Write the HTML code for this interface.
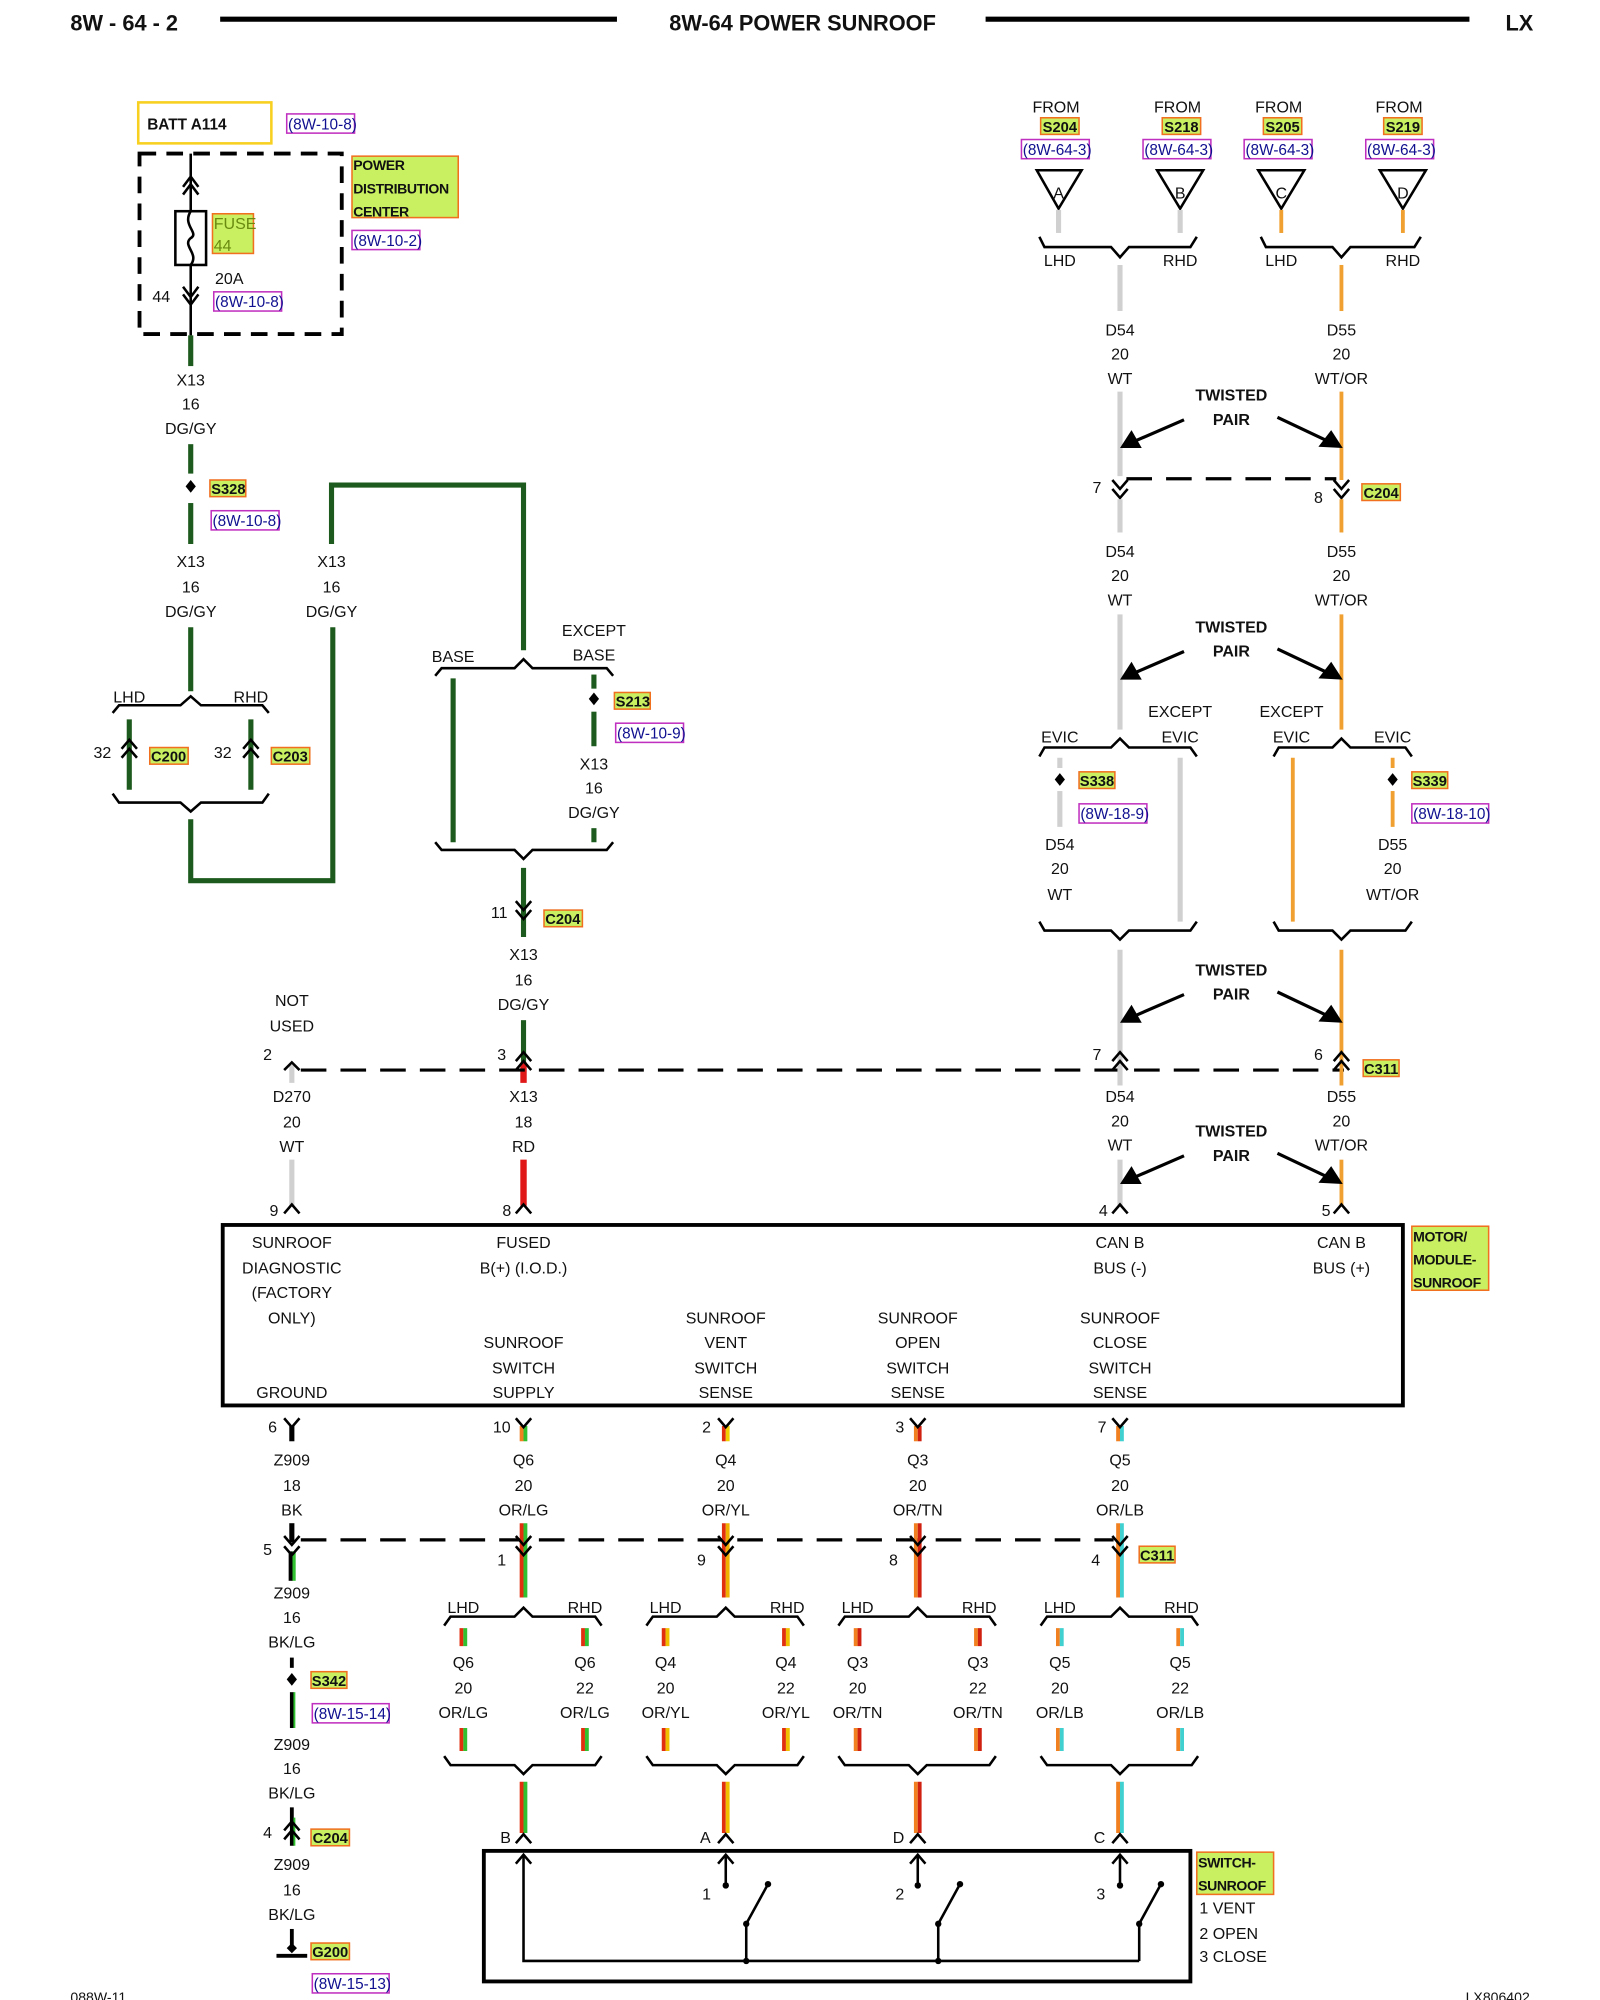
<!DOCTYPE html>
<html><head><meta charset="utf-8"><style>
html,body{margin:0;padding:0;background:#fff}
svg{display:block}
text{font-family:"Liberation Sans",sans-serif;font-size:12.5px;fill:#111;text-anchor:middle}
.l{text-anchor:start}.bd{font-weight:bold}
.sm{font-size:11px;letter-spacing:-0.3px}
.hl{fill:#c8f060;stroke:#f07020;stroke-width:1.2}
.rf{fill:none;stroke:#c030c0;stroke-width:1.2}
.rt{fill:#101090;text-anchor:start;font-size:12px}
.k{stroke:#000;stroke-width:2;fill:none}
.g{stroke:#1d5a1d;stroke-width:4;fill:none}
.w{stroke:#d0d0d0;stroke-width:4;fill:none}
.o{stroke:#f0a030;stroke-width:3;fill:none}
.r{stroke:#e01818;stroke-width:5;fill:none}
.d{stroke:#000;stroke-width:2.5;fill:none;stroke-dasharray:20,11}
</style></head><body>
<svg width="1600" height="2000" viewBox="0 0 1250 1562.5" xmlns="http://www.w3.org/2000/svg">
<text x="55" y="24" class="l bd" style="font-size:17px">8W - 64 - 2</text>
<line x1="172" y1="15" x2="482" y2="15" stroke="#000" stroke-width="4"/>
<text x="627" y="24" class="bd" style="font-size:17px">8W-64 POWER SUNROOF</text>
<line x1="770" y1="15" x2="1148" y2="15" stroke="#000" stroke-width="4"/>
<text x="1187" y="24" class="bd" style="font-size:17px">LX</text>

<rect x="108" y="80" width="104" height="32" fill="none" stroke="#f8d020" stroke-width="2"/>
<text x="115" y="101" class="l bd" style="font-size:12px">BATT A114</text>
<rect x="224" y="89" width="53" height="15" class="rf"/><text x="225" y="101" class="rt">(8W-10-8)</text>
<rect x="109" y="120" width="158" height="141" fill="none" stroke="#000" stroke-width="3" stroke-dasharray="13,8"/>
<line x1="149" y1="120" x2="149" y2="262" class="k"/>
<path d="M143,146 L149,138 L155,146 M143,152 L149,144 L155,152" class="k"/>
<rect x="137" y="165" width="24" height="42" fill="#fff" stroke="#000" stroke-width="2"/>
<path d="M149,165 C142,176 156,182 149,186 C142,192 156,198 149,207" class="k" stroke-width="1.5"/>
<rect x="166" y="167" width="32" height="31" class="hl"/>
<text x="167" y="179" class="l" style="fill:#6a8a10">FUSE</text><text x="167" y="196" class="l" style="fill:#6a8a10">44</text>
<text x="168" y="222" class="l">20A</text>
<path d="M143,224 L149,232 L155,224 M143,230 L149,238 L155,230" class="k"/>
<text x="126" y="236">44</text>
<rect x="167" y="228" width="53" height="15" class="rf"/><text x="168" y="240" class="rt">(8W-10-8)</text>
<rect x="275" y="122" width="83" height="48" class="hl"/>
<text x="276" y="133" class="l bd sm">POWER</text><text x="276" y="151" class="l bd sm">DISTRIBUTION</text><text x="276" y="169" class="l bd sm">CENTER</text>
<rect x="275" y="180" width="53" height="15" class="rf"/><text x="276" y="192" class="rt">(8W-10-2)</text>
<line x1="149" y1="262" x2="149" y2="286" class="g"/>
<text x="149" y="301">X13</text><text x="149" y="320">16</text><text x="149" y="339">DG/GY</text>
<line x1="149" y1="347" x2="149" y2="370" class="g"/>
<path d="M149,375 L153,380 L149,385 L145,380Z" fill="#000"/>
<rect x="164" y="375" width="28" height="13" class="hl"/><text x="165" y="386" class="l bd" style="font-size:11.5px">S328</text>
<rect x="165" y="399" width="53" height="15" class="rf"/><text x="166" y="411" class="rt">(8W-10-8)</text>
<line x1="149" y1="393" x2="149" y2="425" class="g"/>
<text x="149" y="443">X13</text><text x="149" y="463">16</text><text x="149" y="482">DG/GY</text>
<text x="259" y="443">X13</text><text x="259" y="463">16</text><text x="259" y="482">DG/GY</text>
<line x1="149" y1="490" x2="149" y2="540" class="g"/>
<path d="M88,557 L93,551 L141,551 L149,544 L157,551 L205,551 L210,557" class="k"/>
<text x="101" y="549">LHD</text><text x="196" y="549">RHD</text>
<text x="80" y="592">32</text><text x="174" y="592">32</text>
<line x1="101" y1="562" x2="101" y2="617" class="g"/><line x1="196" y1="562" x2="196" y2="617" class="g"/>
<path d="M95,585 L101,578 L107,585 M95,592 L101,585 L107,592 M190,585 L196,578 L202,585 M190,592 L196,585 L202,592" class="k"/>
<rect x="117" y="584" width="30" height="13" class="hl"/><text x="118" y="595" class="l bd" style="font-size:11.5px">C200</text>
<rect x="212" y="584" width="30" height="13" class="hl"/><text x="213" y="595" class="l bd" style="font-size:11.5px">C203</text>
<path d="M88,620 L93,627 L141,627 L149,634 L157,627 L205,627 L210,620" class="k"/>
<path d="M149,640 L149,688 L260,688 L260,490" class="g"/>
<path d="M259,425 L259,379 L409,379 L409,508" class="g"/>
<text x="354" y="517">BASE</text><text x="464" y="497">EXCEPT</text><text x="464" y="516">BASE</text>
<path d="M340,528 L345,522 L402,522 L409,515 L416,522 L474,522 L479,528" class="k"/>
<line x1="354" y1="530" x2="354" y2="658" class="g"/>
<line x1="464" y1="527" x2="464" y2="538" class="g"/>
<path d="M464,541 L468,546 L464,551 L460,546Z" fill="#000"/>
<rect x="480" y="541" width="28" height="13" class="hl"/><text x="481" y="552" class="l bd" style="font-size:11.5px">S213</text>
<rect x="481" y="565" width="53" height="15" class="rf"/><text x="482" y="577" class="rt">(8W-10-9)</text>
<line x1="464" y1="556" x2="464" y2="583" class="g"/>
<text x="464" y="601">X13</text><text x="464" y="620">16</text><text x="464" y="639">DG/GY</text>
<line x1="464" y1="647" x2="464" y2="658" class="g"/>
<path d="M340,658 L345,664 L402,664 L409,671 L416,664 L474,664 L479,658" class="k"/>
<line x1="409" y1="678" x2="409" y2="732" class="g"/>
<path d="M403,704 L409,711 L415,704 M403,711 L409,718 L415,711" class="k"/>
<text x="390" y="717">11</text>
<rect x="425" y="711" width="30" height="13" class="hl"/><text x="426" y="722" class="l bd" style="font-size:11.5px">C204</text>
<text x="409" y="750">X13</text><text x="409" y="770">16</text><text x="409" y="789">DG/GY</text>
<line x1="409" y1="797" x2="409" y2="830" class="g"/>
<line x1="409" y1="830" x2="409" y2="846" class="r"/>
<line x1="235" y1="836" x2="1050" y2="836" class="d"/>
<path d="M403,829 L409,822 L415,829 M403,836 L409,829 L415,836" class="k"/>
<text x="392" y="828">3</text>
<text x="228" y="786">NOT</text><text x="228" y="806">USED</text>
<line x1="228" y1="832" x2="228" y2="846" class="w"/>
<path d="M222,836 L228,830 L234,836" class="k"/>
<text x="209" y="828">2</text>
<text x="228" y="861">D270</text><text x="228" y="881">20</text><text x="228" y="900">WT</text>
<line x1="228" y1="906" x2="228" y2="942" class="w"/>
<path d="M222,948 L228,941 L234,948" class="k"/><text x="214" y="950">9</text>
<text x="409" y="861">X13</text><text x="409" y="881">18</text><text x="409" y="900">RD</text>
<line x1="409" y1="906" x2="409" y2="942" class="r"/>
<path d="M403,948 L409,941 L415,948" class="k"/><text x="396" y="950">8</text>

<text x="825" y="88">FROM</text><text x="920" y="88">FROM</text><text x="999" y="88">FROM</text><text x="1093" y="88">FROM</text>
<rect x="813" y="92" width="30" height="13" class="hl"/><text x="828" y="103" class="bd" style="font-size:11.5px">S204</text>
<rect x="908" y="92" width="30" height="13" class="hl"/><text x="923" y="103" class="bd" style="font-size:11.5px">S218</text>
<rect x="987" y="92" width="30" height="13" class="hl"/><text x="1002" y="103" class="bd" style="font-size:11.5px">S205</text>
<rect x="1081" y="92" width="30" height="13" class="hl"/><text x="1096" y="103" class="bd" style="font-size:11.5px">S219</text>
<rect x="798" y="109" width="53" height="15" class="rf"/><text x="799" y="121" class="rt">(8W-64-3)</text>
<rect x="893" y="109" width="53" height="15" class="rf"/><text x="894" y="121" class="rt">(8W-64-3)</text>
<rect x="972" y="109" width="53" height="15" class="rf"/><text x="973" y="121" class="rt">(8W-64-3)</text>
<rect x="1067" y="109" width="53" height="15" class="rf"/><text x="1068" y="121" class="rt">(8W-64-3)</text>
<path d="M810,133 L845,133 L827,163Z M904,133 L940,133 L922,163Z M983,133 L1019,133 L1001,163Z M1078,133 L1114,133 L1096,163Z" class="k"/>
<text x="827" y="155">A</text><text x="922" y="155">B</text><text x="1001" y="155">C</text><text x="1096" y="155">D</text>
<line x1="827" y1="164" x2="827" y2="182" class="w"/><line x1="922" y1="164" x2="922" y2="182" class="w"/>
<line x1="1001" y1="164" x2="1001" y2="182" class="o"/><line x1="1096" y1="164" x2="1096" y2="182" class="o"/>
<path d="M812,185 L816,193 L868,193 L875,201 L882,193 L930,193 L935,185" class="k"/>
<path d="M985,185 L989,193 L1041,193 L1048,201 L1055,193 L1105,193 L1110,185" class="k"/>
<text x="828" y="208">LHD</text><text x="922" y="208">RHD</text><text x="1001" y="208">LHD</text><text x="1096" y="208">RHD</text>
<line x1="875" y1="207" x2="875" y2="243" class="w"/><line x1="1048" y1="207" x2="1048" y2="243" class="o"/>
<g id="lbl1"><text x="875" y="262">D54</text><text x="875" y="281">20</text><text x="875" y="300">WT</text>
<text x="1048" y="262">D55</text><text x="1048" y="281">20</text><text x="1048" y="300">WT/OR</text></g>
<line x1="875" y1="306" x2="875" y2="372" class="w"/><line x1="1048" y1="306" x2="1048" y2="375" class="o"/>
<g id="tp"><text x="962" y="313" class="bd">TWISTED</text><text x="962" y="332" class="bd">PAIR</text>
<line x1="925" y1="328" x2="888" y2="344" stroke="#000" stroke-width="2.5"/><path d="M875,350 L884,336 L892,350Z" fill="#000"/>
<line x1="998" y1="326" x2="1036" y2="344" stroke="#000" stroke-width="2.5"/><path d="M1049,350 L1030,349 L1040,336Z" fill="#000"/></g>
<line x1="880" y1="374" x2="1044" y2="374" class="d" stroke-dasharray="13,9"/>
<path d="M869,375 L875,382 L881,375 M869,382 L875,389 L881,382 M1042,375 L1048,382 L1054,375 M1042,382 L1048,389 L1054,382" class="k"/>
<text x="857" y="385">7</text><text x="1030" y="393">8</text>
<rect x="1064" y="378" width="30" height="13" class="hl"/><text x="1079" y="389" class="bd" style="font-size:11.5px">C204</text>
<line x1="875" y1="390" x2="875" y2="416" class="w"/><line x1="1048" y1="390" x2="1048" y2="416" class="o"/>
<use href="#lbl1" y="173"/>
<line x1="875" y1="480" x2="875" y2="570" class="w"/><line x1="1048" y1="480" x2="1048" y2="570" class="o"/>
<use href="#tp" y="181"/>
<text x="828" y="580">EVIC</text><text x="922" y="560">EXCEPT</text><text x="922" y="580">EVIC</text>
<text x="1009" y="560">EXCEPT</text><text x="1009" y="580">EVIC</text><text x="1088" y="580">EVIC</text>
<path d="M812,591 L816,584 L868,584 L875,577 L882,584 L930,584 L935,591" class="k"/>
<path d="M995,591 L999,584 L1041,584 L1048,577 L1055,584 L1098,584 L1103,591" class="k"/>
<line x1="828" y1="592" x2="828" y2="600" class="w"/>
<path d="M828,604 L832,609 L828,614 L824,609Z" fill="#000"/>
<rect x="843" y="603" width="28" height="13" class="hl"/><text x="857" y="614" class="bd" style="font-size:11.5px">S338</text>
<rect x="843" y="628" width="53" height="15" class="rf"/><text x="844" y="640" class="rt">(8W-18-9)</text>
<line x1="828" y1="618" x2="828" y2="646" class="w"/>
<text x="828" y="664">D54</text><text x="828" y="683">20</text><text x="828" y="703">WT</text>
<line x1="922" y1="592" x2="922" y2="720" class="w"/>
<line x1="1010" y1="592" x2="1010" y2="720" class="o"/>
<line x1="1088" y1="592" x2="1088" y2="600" class="o"/>
<path d="M1088,604 L1092,609 L1088,614 L1084,609Z" fill="#000"/>
<rect x="1103" y="603" width="28" height="13" class="hl"/><text x="1117" y="614" class="bd" style="font-size:11.5px">S339</text>
<rect x="1103" y="628" width="60" height="15" class="rf"/><text x="1104" y="640" class="rt">(8W-18-10)</text>
<line x1="1088" y1="618" x2="1088" y2="646" class="o"/>
<text x="1088" y="664">D55</text><text x="1088" y="683">20</text><text x="1088" y="703">WT/OR</text>
<path d="M812,720 L816,727 L868,727 L875,734 L882,727 L930,727 L935,720" class="k"/>
<path d="M995,720 L999,727 L1041,727 L1048,734 L1055,727 L1098,727 L1103,720" class="k"/>
<line x1="875" y1="742" x2="875" y2="848" class="w"/><line x1="1048" y1="742" x2="1048" y2="848" class="o"/>
<use href="#tp" y="449"/>
<path d="M869,829 L875,822 L881,829 M869,836 L875,829 L881,836 M1042,829 L1048,822 L1054,829 M1042,836 L1048,829 L1054,836" class="k"/>
<text x="857" y="828">7</text><text x="1030" y="828">6</text>
<rect x="1065" y="828" width="28" height="13" class="hl"/><text x="1079" y="839" class="bd" style="font-size:11.5px">C311</text>
<use href="#lbl1" y="599"/>
<line x1="875" y1="906" x2="875" y2="942" class="w"/><line x1="1048" y1="906" x2="1048" y2="942" class="o"/>
<use href="#tp" y="575"/>
<path d="M869,948 L875,941 L881,948 M1042,948 L1048,941 L1054,948" class="k"/>
<text x="862" y="950">4</text><text x="1036" y="950">5</text>

<rect x="174" y="957" width="922" height="141" fill="none" stroke="#000" stroke-width="3"/>
<rect x="1103" y="958" width="60" height="50" class="hl"/>
<text x="1104" y="970" class="l bd sm">MOTOR/</text><text x="1104" y="988" class="l bd sm">MODULE-</text><text x="1104" y="1006" class="l bd sm">SUNROOF</text>
<text x="228" y="975">SUNROOF</text><text x="228" y="995">DIAGNOSTIC</text><text x="228" y="1014">(FACTORY</text><text x="228" y="1034">ONLY)</text><text x="228" y="1092">GROUND</text>
<text x="409" y="975">FUSED</text><text x="409" y="995">B(+) (I.O.D.)</text>
<text x="409" y="1053">SUNROOF</text><text x="409" y="1073">SWITCH</text><text x="409" y="1092">SUPPLY</text>
<text x="567" y="1034">SUNROOF</text><text x="567" y="1053">VENT</text><text x="567" y="1073">SWITCH</text><text x="567" y="1092">SENSE</text>
<text x="717" y="1034">SUNROOF</text><text x="717" y="1053">OPEN</text><text x="717" y="1073">SWITCH</text><text x="717" y="1092">SENSE</text>
<text x="875" y="1034">SUNROOF</text><text x="875" y="1053">CLOSE</text><text x="875" y="1073">SWITCH</text><text x="875" y="1092">SENSE</text>
<text x="875" y="975">CAN B</text><text x="875" y="995">BUS (-)</text>
<text x="1048" y="975">CAN B</text><text x="1048" y="995">BUS (+)</text>

<line x1="228" y1="1114" x2="228" y2="1126" stroke="#000" stroke-width="4"/>
<g stroke-width="3" fill="none">
<line x1="407.5" y1="1114" x2="407.5" y2="1126" stroke="#f08020"/><line x1="410.5" y1="1114" x2="410.5" y2="1126" stroke="#30c030"/>
<line x1="565.5" y1="1114" x2="565.5" y2="1126" stroke="#e03010"/><line x1="568.5" y1="1114" x2="568.5" y2="1126" stroke="#f0d000"/>
<line x1="715.5" y1="1114" x2="715.5" y2="1126" stroke="#f08020"/><line x1="718.5" y1="1114" x2="718.5" y2="1126" stroke="#d02010"/>
<line x1="873.5" y1="1114" x2="873.5" y2="1126" stroke="#f08020"/><line x1="876.5" y1="1114" x2="876.5" y2="1126" stroke="#40d0d0"/>
</g>
<path d="M222,1108 L228,1115 L234,1108 M403,1108 L409,1115 L415,1108 M561,1108 L567,1115 L573,1108 M711,1108 L717,1115 L723,1108 M869,1108 L875,1115 L881,1108" class="k"/>
<text x="213" y="1119">6</text><text x="392" y="1119">10</text><text x="552" y="1119">2</text><text x="703" y="1119">3</text><text x="861" y="1119">7</text>
<text x="228" y="1145">Z909</text><text x="228" y="1165">18</text><text x="228" y="1184">BK</text>
<text x="409" y="1145">Q6</text><text x="409" y="1165">20</text><text x="409" y="1184">OR/LG</text>
<text x="567" y="1145">Q4</text><text x="567" y="1165">20</text><text x="567" y="1184">OR/YL</text>
<text x="717" y="1145">Q3</text><text x="717" y="1165">20</text><text x="717" y="1184">OR/TN</text>
<text x="875" y="1145">Q5</text><text x="875" y="1165">20</text><text x="875" y="1184">OR/LB</text>
<line x1="235" y1="1203" x2="870" y2="1203" class="d"/>
<line x1="228" y1="1190" x2="228" y2="1205" stroke="#000" stroke-width="4"/>
<line x1="229.5" y1="1212" x2="229.5" y2="1235" stroke="#30c030" stroke-width="3"/><line x1="227" y1="1212" x2="227" y2="1235" stroke="#000" stroke-width="3"/>
<g stroke-width="3" fill="none">
<line x1="407.5" y1="1190" x2="407.5" y2="1248" stroke="#e03010"/><line x1="410.5" y1="1190" x2="410.5" y2="1248" stroke="#30c030"/>
<line x1="565.5" y1="1190" x2="565.5" y2="1248" stroke="#e03010"/><line x1="568.5" y1="1190" x2="568.5" y2="1248" stroke="#f0b000"/>
<line x1="715.5" y1="1190" x2="715.5" y2="1248" stroke="#f08020"/><line x1="718.5" y1="1190" x2="718.5" y2="1248" stroke="#d02010"/>
<line x1="873.5" y1="1190" x2="873.5" y2="1248" stroke="#f08020"/><line x1="876.5" y1="1190" x2="876.5" y2="1248" stroke="#40d0d0"/>
</g>
<path d="M222,1200 L228,1207 L234,1200 M222,1208 L228,1215 L234,1208 M403,1200 L409,1207 L415,1200 M403,1208 L409,1215 L415,1208 M561,1200 L567,1207 L573,1200 M561,1208 L567,1215 L573,1208 M711,1200 L717,1207 L723,1200 M711,1208 L717,1215 L723,1208 M869,1200 L875,1207 L881,1200 M869,1208 L875,1215 L881,1208" class="k"/>
<text x="209" y="1215">5</text><text x="392" y="1223">1</text><text x="548" y="1223">9</text><text x="698" y="1223">8</text><text x="856" y="1223">4</text>
<rect x="890" y="1208" width="28" height="13" class="hl"/><text x="904" y="1219" class="bd" style="font-size:11.5px">C311</text>

<g id="br">
<text x="362" y="1260">LHD</text><text x="457" y="1260">RHD</text>
<path d="M347,1270 L352,1263 L402,1263 L409,1256 L416,1263 L465,1263 L470,1270" class="k"/>
<path d="M347,1372 L352,1379 L402,1379 L409,1386 L416,1379 L465,1379 L470,1372" class="k"/>
</g>
<use href="#br" x="158"/><use href="#br" x="308"/><use href="#br" x="466"/>
<g stroke-width="3" fill="none">
<path d="M360.5,1272V1286M360.5,1350V1368M455.5,1272V1286M455.5,1350V1368M407.5,1392V1432" stroke="#e03010"/>
<path d="M363.5,1272V1286M363.5,1350V1368M458.5,1272V1286M458.5,1350V1368M410.5,1392V1432" stroke="#30c030"/>
<path d="M518.5,1272V1286M518.5,1350V1368M612.5,1272V1286M612.5,1350V1368M565.5,1392V1432" stroke="#e03010"/>
<path d="M521.5,1272V1286M521.5,1350V1368M615.5,1272V1286M615.5,1350V1368M568.5,1392V1432" stroke="#f0c000"/>
<path d="M668.5,1272V1286M668.5,1350V1368M762.5,1272V1286M762.5,1350V1368M715.5,1392V1432" stroke="#f08020"/>
<path d="M671.5,1272V1286M671.5,1350V1368M765.5,1272V1286M765.5,1350V1368M718.5,1392V1432" stroke="#d02010"/>
<path d="M826.5,1272V1286M826.5,1350V1368M920.5,1272V1286M920.5,1350V1368M873.5,1392V1432" stroke="#f08020"/>
<path d="M829.5,1272V1286M829.5,1350V1368M923.5,1272V1286M923.5,1350V1368M876.5,1392V1432" stroke="#40d0d0"/>
</g>
<text x="362" y="1303">Q6</text><text x="362" y="1323">20</text><text x="362" y="1342">OR/LG</text>
<text x="457" y="1303">Q6</text><text x="457" y="1323">22</text><text x="457" y="1342">OR/LG</text>
<text x="520" y="1303">Q4</text><text x="520" y="1323">20</text><text x="520" y="1342">OR/YL</text>
<text x="614" y="1303">Q4</text><text x="614" y="1323">22</text><text x="614" y="1342">OR/YL</text>
<text x="670" y="1303">Q3</text><text x="670" y="1323">20</text><text x="670" y="1342">OR/TN</text>
<text x="764" y="1303">Q3</text><text x="764" y="1323">22</text><text x="764" y="1342">OR/TN</text>
<text x="828" y="1303">Q5</text><text x="828" y="1323">20</text><text x="828" y="1342">OR/LB</text>
<text x="922" y="1303">Q5</text><text x="922" y="1323">22</text><text x="922" y="1342">OR/LB</text>
<path d="M403,1440 L409,1433 L415,1440 M561,1440 L567,1433 L573,1440 M711,1440 L717,1433 L723,1440 M869,1440 L875,1433 L881,1440" class="k"/>
<text x="395" y="1440">B</text><text x="551" y="1440">A</text><text x="702" y="1440">D</text><text x="859" y="1440">C</text>

<rect x="378" y="1446" width="552" height="102" fill="none" stroke="#000" stroke-width="3"/>
<rect x="935" y="1447" width="60" height="33" class="hl"/>
<text x="936" y="1459" class="l bd sm">SWITCH-</text><text x="936" y="1477" class="l bd sm">SUNROOF</text>
<text x="937" y="1495" class="l">1 VENT</text><text x="937" y="1515" class="l">2 OPEN</text><text x="937" y="1533" class="l">3 CLOSE</text>
<path d="M403,1456 L409,1449 L415,1456 M561,1456 L567,1449 L573,1456 M711,1456 L717,1449 L723,1456 M869,1456 L875,1449 L881,1456" class="k"/>
<path d="M409,1449 L409,1532 L890,1532 M567,1449 V1472 M717,1449 V1472 M875,1449 V1472 M583,1532 V1503 L600,1472 M733,1532 V1503 L750,1472 M890,1532 V1503 L907,1472" class="k"/>
<g fill="#000"><circle cx="567" cy="1473" r="2.5"/><circle cx="717" cy="1473" r="2.5"/><circle cx="875" cy="1473" r="2.5"/>
<circle cx="583" cy="1503" r="2.5"/><circle cx="733" cy="1503" r="2.5"/><circle cx="890" cy="1503" r="2.5"/>
<circle cx="583" cy="1532" r="2.5"/><circle cx="733" cy="1532" r="2.5"/>
<circle cx="600" cy="1472" r="2.5"/><circle cx="750" cy="1472" r="2.5"/><circle cx="907" cy="1472" r="2.5"/></g>
<text x="552" y="1484">1</text><text x="703" y="1484">2</text><text x="860" y="1484">3</text>

<text x="228" y="1249">Z909</text><text x="228" y="1268">16</text><text x="228" y="1287">BK/LG</text>
<line x1="228" y1="1295" x2="228" y2="1303" stroke="#000" stroke-width="3"/>
<path d="M228,1307 L232,1312 L228,1317 L224,1312Z" fill="#000"/>
<rect x="243" y="1306" width="28" height="13" class="hl"/><text x="257" y="1317" class="bd" style="font-size:11.5px">S342</text>
<rect x="244" y="1331" width="60" height="15" class="rf"/><text x="245" y="1343" class="rt">(8W-15-14)</text>
<line x1="228" y1="1322" x2="228" y2="1350" stroke="#000" stroke-width="3"/><line x1="230" y1="1322" x2="230" y2="1350" stroke="#30c030" stroke-width="1.5"/>
<text x="228" y="1367">Z909</text><text x="228" y="1386">16</text><text x="228" y="1405">BK/LG</text>
<line x1="228" y1="1412" x2="228" y2="1442" stroke="#000" stroke-width="3"/><line x1="230" y1="1420" x2="230" y2="1442" stroke="#30c030" stroke-width="1.5"/>
<path d="M222,1430 L228,1423 L234,1430 M222,1437 L228,1430 L234,1437" class="k"/>
<text x="209" y="1436">4</text>
<rect x="243" y="1429" width="30" height="13" class="hl"/><text x="258" y="1440" class="bd" style="font-size:11.5px">C204</text>
<text x="228" y="1461">Z909</text><text x="228" y="1481">16</text><text x="228" y="1500">BK/LG</text>
<line x1="228" y1="1507" x2="228" y2="1524" stroke="#000" stroke-width="3"/>
<path d="M228,1518 L232,1522 L228,1526 L224,1522Z" fill="#000"/>
<line x1="216" y1="1528" x2="240" y2="1528" stroke="#000" stroke-width="3"/>
<rect x="243" y="1518" width="30" height="13" class="hl"/><text x="258" y="1529" class="bd" style="font-size:11.5px">G200</text>
<rect x="244" y="1542" width="60" height="15" class="rf"/><text x="245" y="1554" class="rt">(8W-15-13)</text>

<text x="55" y="1564" class="l" style="font-size:11px">088W-11</text>
<text x="1145" y="1564" class="l" style="font-size:11px">LX806402</text>
</svg>
</body></html>
